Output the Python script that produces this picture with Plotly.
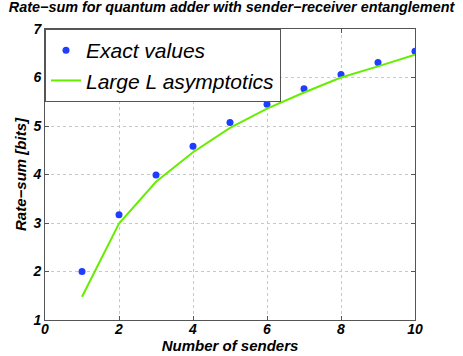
import plotly.graph_objects as go

senders = [1, 2, 3, 4, 5, 6, 7, 8, 9, 10]
exact_values = [2.0, 3.17, 3.99, 4.58, 5.07, 5.45, 5.77, 6.06, 6.31, 6.54]
asymptotics = [1.48, 2.99, 3.85, 4.46, 4.96, 5.36, 5.69, 6.0, 6.23, 6.47]

x_ticks = [0, 2, 4, 6, 8, 10]
y_ticks = [1, 2, 3, 4, 5, 6, 7]

FONT = "Liberation Sans, Arial, sans-serif"
TICK_FONT = dict(family=FONT, size=14, color="black", weight="bold", style="italic")
LABEL_FONT = dict(family=FONT, size=15, color="black", weight="bold", style="italic")

fig = go.Figure()
fig.add_trace(go.Scatter(
    x=senders, y=exact_values, mode="markers", name="Exact values",
    marker=dict(color="#1f3dff", size=7),
))
fig.add_trace(go.Scatter(
    x=senders, y=asymptotics, mode="lines", name="Large L asymptotics",
    line=dict(color="#66ee00", width=2),
))

axis_common = dict(
    showline=True, linecolor="#555555", linewidth=1, mirror="ticks",
    ticks="inside", ticklen=4, tickcolor="#555555",
    showgrid=True, gridcolor="#c8c8c8", griddash="dot", gridwidth=1,
    zeroline=False, tickfont=TICK_FONT, automargin=False,
)

fig.update_xaxes(range=[0, 10], tickvals=x_ticks, ticklabelstandoff=-4,
                 title=dict(text="Number of senders", font=LABEL_FONT, standoff=0),
                 **axis_common)
fig.update_yaxes(range=[1, 7], tickvals=y_ticks, ticklabelstandoff=0,
                 title=dict(text="Rate−sum [bits]", font=LABEL_FONT, standoff=2),
                 **axis_common)

fig.update_layout(
    width=463, height=356,
    paper_bgcolor="white", plot_bgcolor="white",
    margin=dict(l=45, r=48, t=29, b=36),
    title=dict(text="Rate−sum for quantum adder with sender−receiver entanglement",
               font=dict(family=FONT, size=14.4, color="black", weight="bold", style="italic"),
               x=0.5, xanchor="center", y=0.995, yanchor="top"),
    showlegend=True,
    legend=dict(x=0, y=1, xanchor="left", yanchor="top",
                bgcolor="white", bordercolor="#555555", borderwidth=1,
                font=dict(family=FONT, size=21, color="black", style="italic"),
                itemwidth=30, tracegroupgap=0),
)

# page body has a default 8px margin; drop it so the figure sits at the corner
fig.write_html("out.html", config={"displayModeBar": False},
               post_script="document.body.style.margin='0';")
